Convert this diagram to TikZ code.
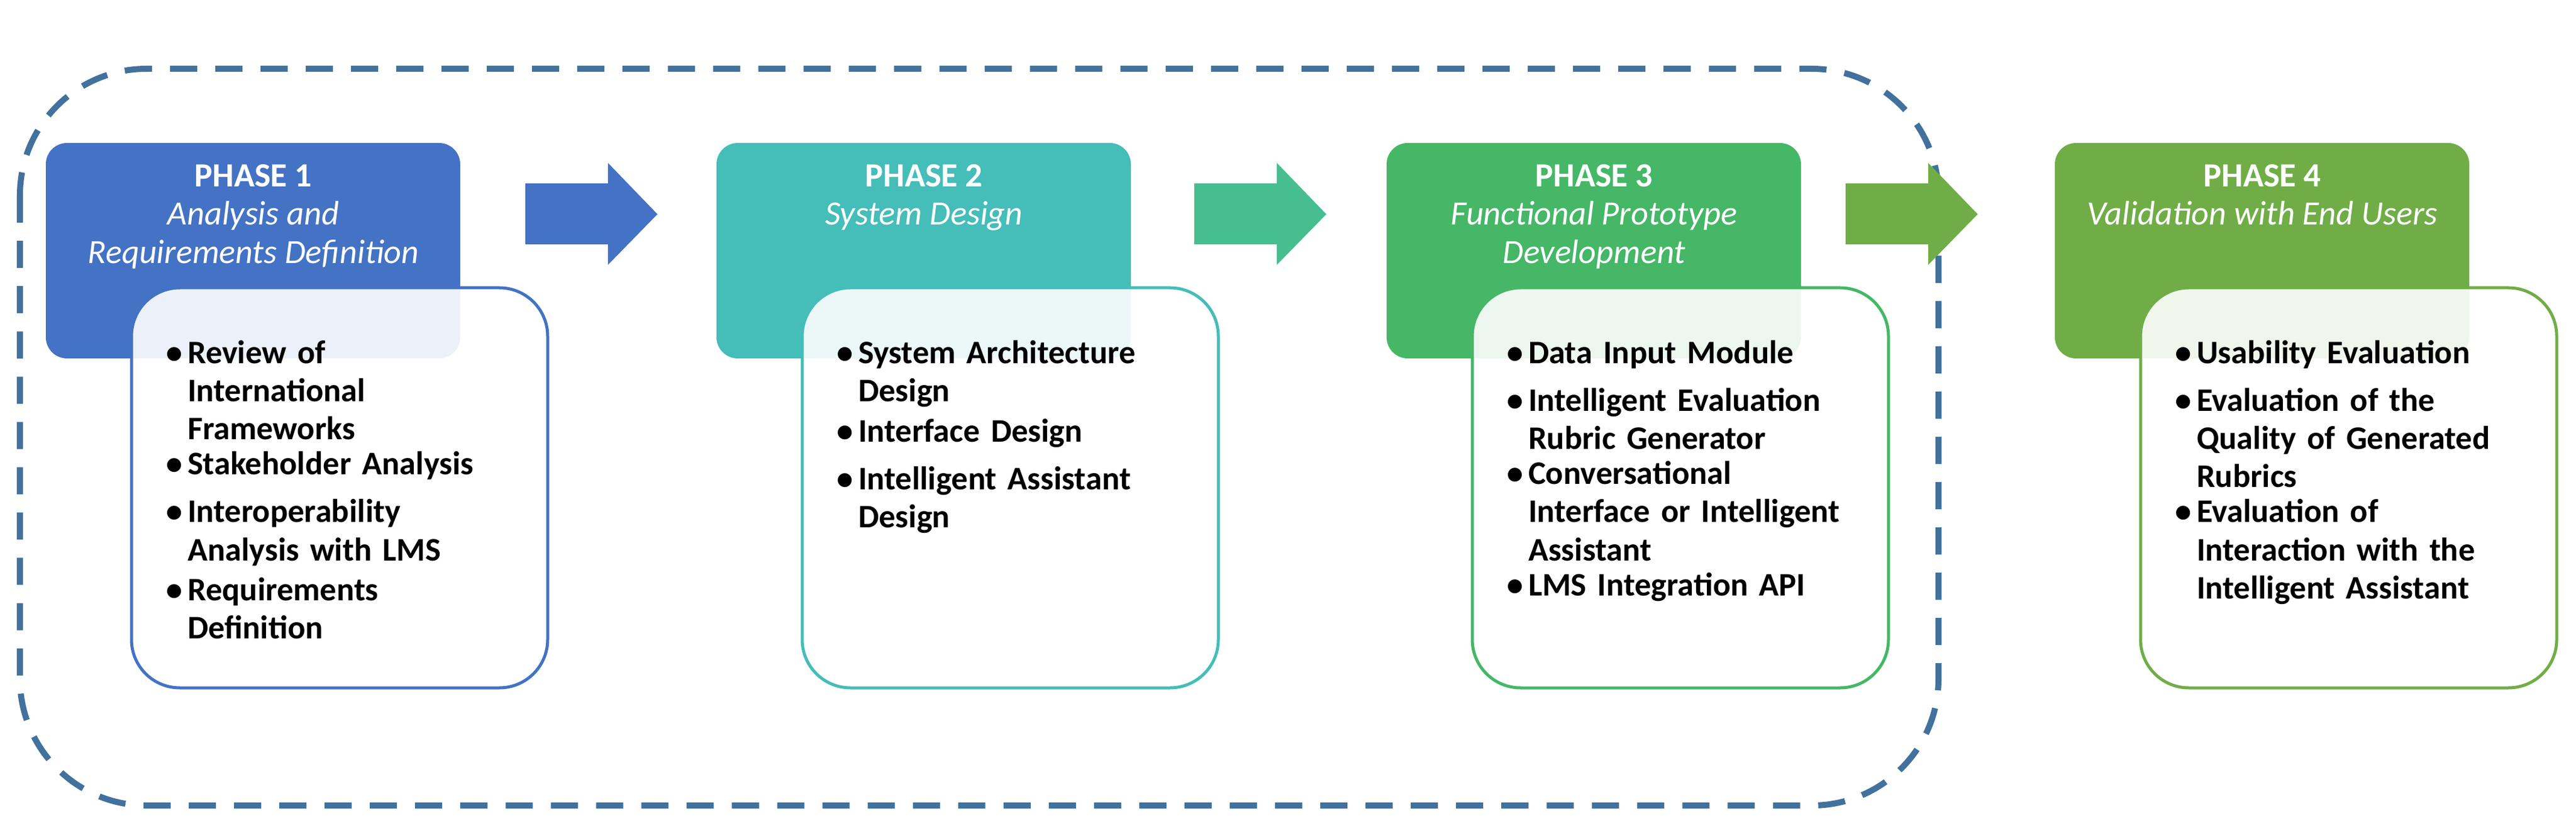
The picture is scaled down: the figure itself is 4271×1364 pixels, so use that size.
\documentclass[tikz,border=0pt]{standalone}
\usepackage{fontspec}
\setmainfont{Carlito}
\begin{document}
\definecolor{cA}{HTML}{4472C4}
\definecolor{cB}{HTML}{45BDB8}
\definecolor{cC}{HTML}{45B767}
\definecolor{cD}{HTML}{70AD47}
\definecolor{aB}{HTML}{46BE90}
\definecolor{dashcol}{HTML}{41719C}
\newcommand{\bl}[1]{\par\noindent\makebox[0.65em][l]{\textbullet}\parbox[t]{6cm}{\raggedright #1}\par\vspace{4.5pt}}
\begin{tikzpicture}[x=0.01cm,y=-0.01cm,
  hdr/.style={rounded corners=0.35cm,draw=none},
  det/.style={rounded corners=0.8cm,line width=0.05cm,fill=white,fill opacity=0.9,text opacity=1},
  htxt/.style={anchor=north,align=center,text=white,font=\fontsize{16}{18}\selectfont,inner sep=0},
  btxt/.style={anchor=north west,text width=6.6cm,inner sep=0,font=\bfseries\fontsize{15.5}{18}\selectfont}]
\useasboundingbox (0,0) rectangle (4271,1364);
\draw[dashcol,line width=0.1cm,dash pattern=on 0.45cm off 0.3cm,rounded corners=2.1cm] (33,114) rectangle (3214,1335);
\foreach \i/\x/\c in {1/76/cA,2/1188/cB,3/2299/cC,4/3407/cD}{
  \fill[\c,hdr] (\x,237) rectangle ++(687,357);
  \path[det,draw=\c] (\x+142,477) rectangle ++(690,663);
}
% arrows
\foreach \x/\c in {871/cA,1980/aB,3060/cD}{
  \fill[\c] (\x,304) -- (\x+137,304) -- (\x+137,270) -- (\x+219,355) -- (\x+137,439) -- (\x+137,405) -- (\x,405) -- cycle;
}
\node[htxt] (h1) at (420,272) {\textbf{PHASE 1}\\\textit{Analysis and}\\\textit{Requirements Definition}};
\node[htxt] (h2) at (1532,272) {\textbf{PHASE 2}\\\textit{System Design}};
\node[htxt] (h3) at (2643,272) {\textbf{PHASE 3}\\\textit{Functional Prototype}\\\textit{Development}};
\node[htxt] (h4) at (3751,272) {\textbf{PHASE 4}\\\textit{Validation with End Users}};
\node[btxt] (b1) at (275,538) {\bl{Review of\\International\\Frameworks}\bl{Stakeholder Analysis}\bl{Interoperability\\Analysis with LMS}\bl{Requirements\\Definition}};
\node[btxt] (b2) at (1387,538) {\bl{System Architecture\\Design}\bl{Interface Design}\bl{Intelligent Assistant\\Design}};
\node[btxt] (b3) at (2498,538) {\bl{Data Input Module}\bl{Intelligent Evaluation\\Rubric Generator}\bl{Conversational\\Interface or Intelligent\\Assistant}\bl{LMS Integration API}};
\node[btxt] (b4) at (3606,538) {\bl{Usability Evaluation}\bl{Evaluation of the\\Quality of Generated\\Rubrics}\bl{Evaluation of\\Interaction with the\\Intelligent Assistant}};
\end{tikzpicture}
\end{document}
